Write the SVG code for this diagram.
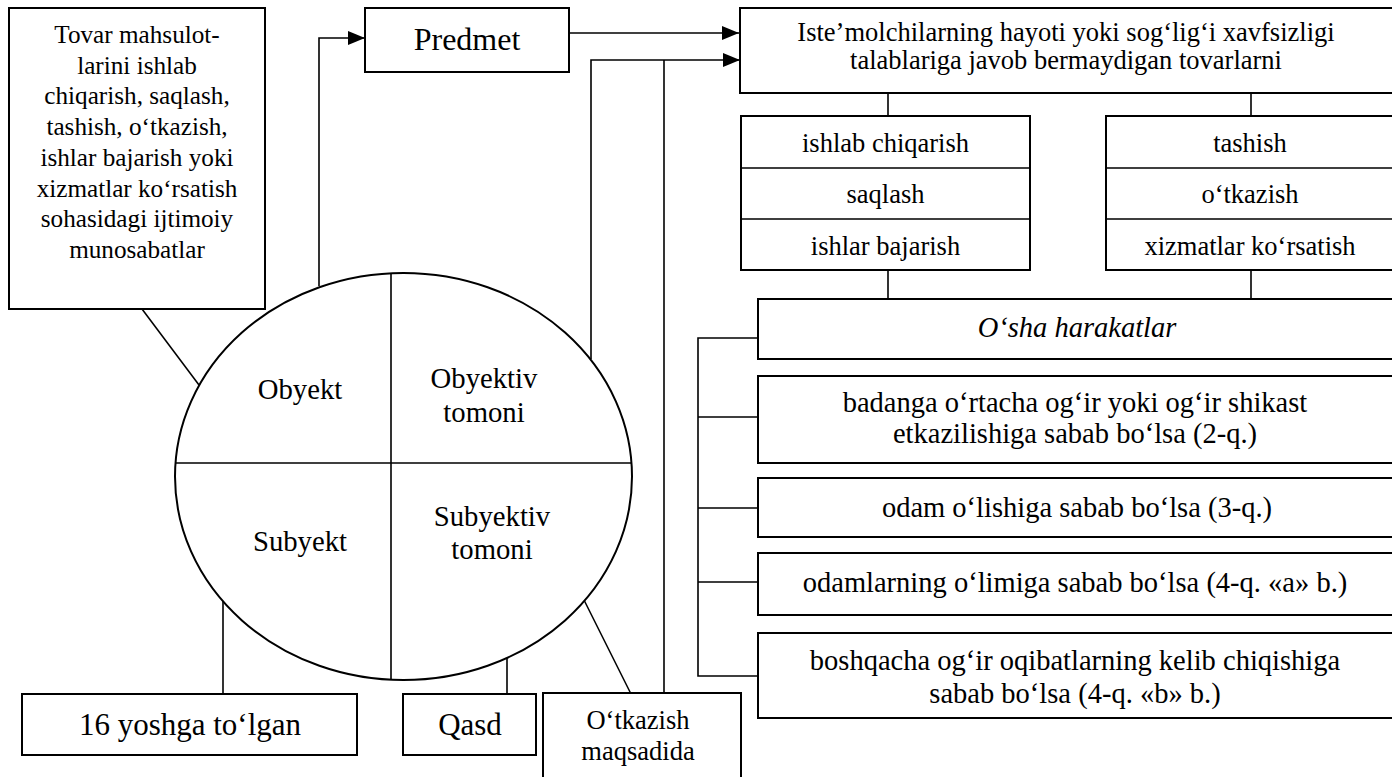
<svg xmlns="http://www.w3.org/2000/svg" width="1392" height="777" viewBox="0 0 1392 777">
<style>
  .box { fill: #fff; stroke: #000; stroke-width: 2; }
  .ln { fill: none; stroke: #000; stroke-width: 1.6; }
  .t { font-family: "Liberation Serif", "DejaVu Serif", serif; fill: #000; text-anchor: middle; }
</style>
<defs>
  <marker id="arr" markerUnits="userSpaceOnUse" markerWidth="17" markerHeight="14" refX="17" refY="7" orient="auto">
    <path d="M0,0 L17,7 L0,14 Z" fill="#000"/>
  </marker>
</defs>
<rect width="1392" height="777" fill="#fff"/>

<g id="connectors">
  <path class="ln" d="M319,286 V38 H365" marker-end="url(#arr)"/>
  <path class="ln" d="M569,33 H739" marker-end="url(#arr)"/>
  <path class="ln" d="M591,359 V60 H740" marker-end="url(#arr)"/>
  <path class="ln" d="M664,693 V60"/>
  <path class="ln" d="M142,309 L199,385"/>
  <path class="ln" d="M223,601 V694"/>
  <path class="ln" d="M507,658 V694"/>
  <path class="ln" d="M584,600 L631,694"/>
  <path class="ln" d="M888,93 V116 M1251,93 V116 M888,270 V299 M1251,270 V299"/>
  <path class="ln" d="M758,338 H698 V676 H758 M698,417 H758 M698,508 H758 M698,582 H758"/>
</g>

<g id="node-tovar">
  <rect class="box" x="9" y="8" width="256" height="301"/>
  <text class="t" font-family="Liberation Serif, serif" font-size="25.2" x="137" y="43">Tovar mahsulot-</text>
  <text class="t" font-size="25.2" x="137" y="73.7">larini ishlab</text>
  <text class="t" font-size="25.2" x="137" y="104.4">chiqarish, saqlash,</text>
  <text class="t" font-size="25.2" x="137" y="135.1">tashish, o‘tkazish,</text>
  <text class="t" font-size="25.2" x="137" y="165.8">ishlar bajarish yoki</text>
  <text class="t" font-size="25.2" x="137" y="196.5">xizmatlar ko‘rsatish</text>
  <text class="t" font-size="25.2" x="137" y="227.2">sohasidagi ijtimoiy</text>
  <text class="t" font-size="25.2" x="137" y="258">munosabatlar</text>
</g>

<g id="node-predmet">
  <rect class="box" x="365" y="8" width="204" height="64"/>
  <text class="t" font-size="32" x="467" y="50">Predmet</text>
</g>

<g id="node-tovarlarni">
  <rect class="box" x="740" y="8" width="660" height="85"/>
  <text class="t" font-size="26.5" x="1066" y="41">Iste’molchilarning hayoti yoki sog‘lig‘i xavfsizligi</text>
  <text class="t" font-size="26.5" x="1066" y="69">talablariga javob bermaydigan tovarlarni</text>
</g>

<g id="node-stack-left">
  <rect class="box" x="741" y="116" width="289" height="154"/>
  <path class="ln" d="M741,168 H1030 M741,219 H1030" stroke-width="2"/>
  <text class="t" font-size="26.5" x="885.5" y="152">ishlab chiqarish</text>
  <text class="t" font-size="26.5" x="885.5" y="203">saqlash</text>
  <text class="t" font-size="26.5" x="885.5" y="255">ishlar bajarish</text>
</g>

<g id="node-stack-right">
  <rect class="box" x="1106" y="116" width="300" height="154"/>
  <path class="ln" d="M1106,168 H1400 M1106,219 H1400" stroke-width="2"/>
  <text class="t" font-size="26.5" x="1250" y="152">tashish</text>
  <text class="t" font-size="26.5" x="1250" y="203">o‘tkazish</text>
  <text class="t" font-size="26.5" x="1250" y="255">xizmatlar ko‘rsatish</text>
</g>

<g id="node-osha">
  <rect class="box" x="758" y="299" width="650" height="60"/>
  <text class="t" font-size="28.5" font-style="italic" x="1077" y="337">O‘sha harakatlar</text>
</g>

<g id="node-q2">
  <rect class="box" x="758" y="376" width="650" height="87"/>
  <text class="t" font-size="28.5" x="1075" y="412">badanga o‘rtacha og‘ir yoki og‘ir shikast</text>
  <text class="t" font-size="28.5" x="1075" y="443">etkazilishiga sabab bo‘lsa (2-q.)</text>
</g>

<g id="node-q3">
  <rect class="box" x="758" y="478" width="650" height="59"/>
  <text class="t" font-size="28.5" x="1077" y="517">odam o‘lishiga sabab bo‘lsa (3-q.)</text>
</g>

<g id="node-q4a">
  <rect class="box" x="758" y="553" width="650" height="62"/>
  <text class="t" font-size="28.5" x="1075" y="592">odamlarning o‘limiga sabab bo‘lsa (4-q. «a» b.)</text>
</g>

<g id="node-q4b">
  <rect class="box" x="758" y="633" width="650" height="85"/>
  <text class="t" font-size="28.5" x="1075" y="670">boshqacha og‘ir oqibatlarning kelib chiqishiga</text>
  <text class="t" font-size="28.5" x="1075" y="703">sabab bo‘lsa (4-q. «b» b.)</text>
</g>

<g id="node-ellipse">
  <ellipse class="box" cx="403.5" cy="476.5" rx="228.5" ry="203.5"/>
  <path class="ln" d="M175.5,463 H631.5 M391,273 V680" stroke-width="2"/>
  <text class="t" font-size="28.7" x="300" y="399">Obyekt</text>
  <text class="t" font-size="28.7" x="484" y="388">Obyektiv</text>
  <text class="t" font-size="28.7" x="484" y="422">tomoni</text>
  <text class="t" font-size="28.7" x="300" y="551">Subyekt</text>
  <text class="t" font-size="28.7" x="492" y="526">Subyektiv</text>
  <text class="t" font-size="28.7" x="492" y="559">tomoni</text>
</g>

<g id="node-16yosh">
  <rect class="box" x="22" y="694" width="335" height="61"/>
  <text class="t" font-size="31" x="190" y="735">16 yoshga to‘lgan</text>
</g>

<g id="node-qasd">
  <rect class="box" x="403" y="694" width="133" height="61"/>
  <text class="t" font-size="31" x="470" y="735">Qasd</text>
</g>

<g id="node-otkazish">
  <rect class="box" x="543" y="693" width="198" height="100"/>
  <text class="t" font-size="26.5" x="638" y="729">O‘tkazish</text>
  <text class="t" font-size="26.5" x="638" y="760">maqsadida</text>
</g>
</svg>
